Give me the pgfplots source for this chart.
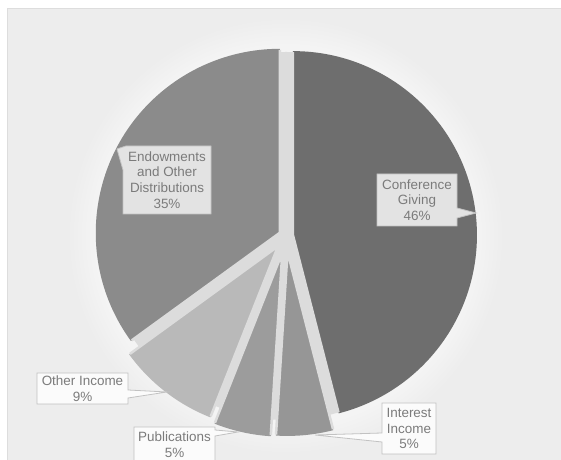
\documentclass[border=0pt]{standalone}
\usepackage{pgfplots}
\pgfplotsset{compat=1.18}
\usepackage{pgfplotstable}
\usepackage{fontspec}
\setmainfont{Liberation Sans}

\definecolor{panel}{HTML}{EDEDED}
\definecolor{panelline}{HTML}{DDDDDD}
\definecolor{gapc}{HTML}{DCDCDC}
\definecolor{slice0}{HTML}{6E6E6E} % Conference Giving
\definecolor{slice1}{HTML}{969696} % Interest Income
\definecolor{slice2}{HTML}{9C9C9C} % Publications
\definecolor{slice3}{HTML}{B9B9B9} % Other Income
\definecolor{slice4}{HTML}{8B8B8B} % Endowments and Other Distributions
\definecolor{boxdark}{HTML}{E3E3E3}
\definecolor{boxlight}{HTML}{FBFBFB}
\definecolor{boxline}{HTML}{C2C2C2}
\definecolor{labeltext}{HTML}{7B7B7B}

% share in percent, explode offset in px, clockwise from 12 o'clock
\pgfplotstableread{
share explode
46 7
5  16
5  17
9  13
35 7
}\piedata

\newcommand\lbl{\fontsize{13.5}{15.8}\selectfont}
\def\cx{286}
\def\cy{224}

\begin{document}
\begin{tikzpicture}[x=1bp,y=1bp]
\path[use as bounding box] (0,0) rectangle (561,460);
\clip (0,0) rectangle (561,460);
\fill[white] (0,0) rectangle (561,460);
\filldraw[fill=panel, draw=panelline, line width=0.8bp] (7,-2) rectangle (563,452);
\foreach \k in {1,...,8}
  \fill[white, opacity=0.09] (\cx,\cy) circle[radius={184+4*\k}];

% slice angles from the table
\gdef\cum{0}
\foreach \i in {0,...,4}{
  \pgfplotstablegetelem{\i}{share}\of\piedata \let\v\pgfplotsretval
  \pgfplotstablegetelem{\i}{explode}\of\piedata \let\ex\pgfplotsretval
  \pgfmathsetmacro\s{90-3.6*\cum}
  \pgfmathsetmacro\e{90-3.6*(\cum+\v)}
  \pgfmathsetmacro\m{(\s+\e)/2}
  \pgfmathsetmacro\ax{\cx+\ex*cos(\m)}
  \pgfmathsetmacro\ay{\cy+\ex*sin(\m)}
  \expandafter\xdef\csname ps\i\endcsname{\s}
  \expandafter\xdef\csname pe\i\endcsname{\e}
  \expandafter\xdef\csname pax\i\endcsname{\ax}
  \expandafter\xdef\csname pay\i\endcsname{\ay}
  \pgfmathsetmacro\c{\cum+\v}
  \xdef\cum{\c}
}

\begin{axis}[
    x=1bp, y=1bp,
    xmin=0, xmax=561, ymin=0, ymax=460,
    enlargelimits=false,
    hide axis,
    clip=false,
    anchor=origin, at={(0,0)},
  ]
  \fill[gapc] (axis cs:\cx,\cy) circle[radius=184bp];
  \pgfplotsinvokeforeach{0,...,4}{
    \fill[slice#1]
      (axis cs:\csname pax#1\endcsname,\csname pay#1\endcsname)
      -- ++(\csname ps#1\endcsname:184bp)
      arc[start angle=\csname ps#1\endcsname, end angle=\csname pe#1\endcsname, radius=184bp]
      -- cycle;
    \draw[gapc, line width=2.5bp, line join=round]
      (axis cs:\csname pax#1\endcsname,\csname pay#1\endcsname) ++(\csname ps#1\endcsname:183bp)
      -- (axis cs:\csname pax#1\endcsname,\csname pay#1\endcsname)
      -- ++(\csname pe#1\endcsname:183bp);
  }
\end{axis}

% callouts (y measured from top: Y = 460 - y)
\filldraw[fill=boxdark, draw=boxline, line width=0.8bp]
  (126,314) -- (211,314) -- (211,246) -- (123,246) -- (123,290) -- (117,311) -- cycle;
\node[align=center, text=labeltext, font=\lbl, inner sep=0] at (167,280)
  {Endowments\\and Other\\Distributions\\35\%};

\filldraw[fill=boxdark, draw=boxline, line width=0.8bp]
  (377,286) -- (457,286) -- (457,252) -- (476,247) -- (457,242) -- (457,234) -- (377,234) -- cycle;
\node[align=center, text=labeltext, font=\lbl, inner sep=0] at (417,260)
  {Conference\\Giving\\46\%};

\filldraw[fill=boxlight, draw=boxline, line width=0.8bp]
  (37,87) -- (128,87) -- (128,70) -- (167,68) -- (128,62) -- (128,56) -- (37,56) -- cycle;
\node[align=center, text=labeltext, font=\lbl, inner sep=0] at (82.5,71.5)
  {Other Income\\9\%};

\filldraw[fill=boxlight, draw=boxline, line width=0.8bp]
  (134,33) -- (215,33) -- (215,30) -- (238,28) -- (215,24) -- (215,-6) -- (134,-6) -- cycle;
\node[align=center, text=labeltext, font=\lbl, inner sep=0] at (174.5,15.5)
  {Publications\\5\%};

\filldraw[fill=boxlight, draw=boxline, line width=0.8bp]
  (382,57) -- (436,57) -- (436,6) -- (382,6) -- (382,18) -- (315,25) -- (382,27) -- cycle;
\node[align=center, text=labeltext, font=\lbl, inner sep=0] at (409,31.5)
  {Interest\\Income\\5\%};
\end{tikzpicture}
\end{document}
